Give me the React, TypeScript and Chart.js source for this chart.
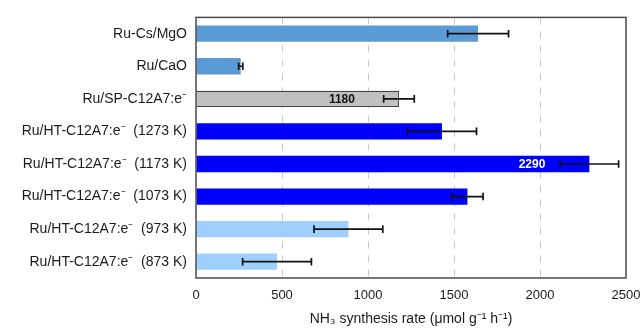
import React, { useEffect, useRef } from "react";
import { Chart, registerables } from "chart.js";

Chart.register(...registerables);

const categories = [
  "Ru-Cs/MgO",
  "Ru/CaO",
  "Ru/SP-C12A7:e\u207B",
  "Ru/HT-C12A7:e\u207B  (1273 K)",
  "Ru/HT-C12A7:e\u207B  (1173 K)",
  "Ru/HT-C12A7:e\u207B  (1073 K)",
  "Ru/HT-C12A7:e\u207B  (973 K)",
  "Ru/HT-C12A7:e\u207B  (873 K)",
];
const rates = [1640, 260, 1180, 1430, 2287, 1578, 886, 471];
const errors = [177, 12, 89, 201, 170, 91, 200, 200];
const barColors = ["#5B9BD5", "#5B9BD5", "#C0C0C0", "#0000FF", "#0000FF", "#0000FF", "#9ECFFF", "#9ECFFF"];
const borderWidths = [0, 0, 1.2, 0, 0, 0, 0, 0];
const valueLabels = ["", "", "1180", "", "2290", "", "", ""];
const valueLabelColors = ["", "", "#111111", "", "#FFFFFF", "", "", ""];
const xTicks = [0, 500, 1000, 1500, 2000, 2500];
const xTitle = "NH\u2083 synthesis rate (\u03BCmol g\u207B\u00B9 h\u207B\u00B9)";

const overlayPlugin = {
  id: "overlay",
  afterDatasetsDraw(chart: any) {
    const ctx = chart.ctx;
    const xs = chart.scales.x;
    const meta = chart.getDatasetMeta(0);
    ctx.save();
    // error bars
    ctx.strokeStyle = "#111111";
    ctx.lineWidth = 1.7;
    meta.data.forEach((bar: any, i: number) => {
      const y = bar.y;
      const x1 = xs.getPixelForValue(rates[i] - errors[i]);
      const x2 = xs.getPixelForValue(rates[i] + errors[i]);
      ctx.beginPath();
      ctx.moveTo(x1, y);
      ctx.lineTo(x2, y);
      ctx.moveTo(x1, y - 3.8);
      ctx.lineTo(x1, y + 3.8);
      ctx.moveTo(x2, y - 3.8);
      ctx.lineTo(x2, y + 3.8);
      ctx.stroke();
    });
    // value labels
    ctx.font = "bold 12px 'Liberation Sans', Arial, sans-serif";
    ctx.textAlign = "right";
    ctx.textBaseline = "middle";
    meta.data.forEach((bar: any, i: number) => {
      if (!valueLabels[i]) return;
      ctx.fillStyle = valueLabelColors[i];
      ctx.fillText(valueLabels[i], xs.getPixelForValue(rates[i]) - 44, bar.y + 0.5);
    });
    // frame
    const a = chart.chartArea;
    ctx.strokeStyle = "#4A4A4A";
    ctx.lineWidth = 1.5;
    ctx.strokeRect(a.left, a.top, a.right - a.left, a.bottom - a.top);
    ctx.restore();
  },
};

export default function App() {
  const ref = useRef<HTMLCanvasElement>(null);
  useEffect(() => {
    document.body.style.margin = "0";
    const chart = new Chart(ref.current as HTMLCanvasElement, {
      type: "bar",
      data: {
        labels: categories,
        datasets: [
          {
            data: rates,
            backgroundColor: barColors,
            borderColor: "#404040",
            borderWidth: borderWidths,
            barPercentage: 0.5,
            categoryPercentage: 1,
          },
        ],
      },
      options: {
        indexAxis: "y",
        animation: false,
        responsive: false,
        maintainAspectRatio: false,
        layout: { padding: { top: 16, right: 16, left: 0, bottom: 0 } },
        plugins: { legend: { display: false }, tooltip: { enabled: false } },
        scales: {
          x: {
            type: "linear",
            min: 0,
            max: 2500,
            afterBuildTicks: (s: any) => {
              s.ticks = xTicks.map((v) => ({ value: v }));
            },
            afterFit: (s: any) => {
              s.height = 50;
              s.paddingRight = 0;
              s.paddingLeft = 0;
            },
            ticks: {
              color: "#1a1a1a",
              padding: 10,
              callback: (v: any) => String(v),
              font: { family: "'Liberation Sans', Arial, sans-serif", size: 13 },
            },
            grid: {
              drawTicks: false,
              lineWidth: 1,
              color: (c: any) =>
                c.tick && (c.tick.value === 0 || c.tick.value === 2500) ? "rgba(0,0,0,0)" : "#C6C6DE",
            },
            border: { display: false, dash: [7, 7] },
            title: {
              display: true,
              text: xTitle,
              color: "#1a1a1a",
              padding: { top: 0, bottom: 0 },
              font: { family: "'Liberation Sans', Arial, sans-serif", size: 14 },
            },
          },
          y: {
            afterFit: (s: any) => {
              s.width = 196;
            },
            ticks: {
              color: "#1a1a1a",
              padding: 9,
              font: { family: "'Liberation Sans', Arial, sans-serif", size: 14 },
            },
            grid: { display: false, drawTicks: false },
            border: { display: false },
          },
        },
      },
      plugins: [overlayPlugin],
    } as any);
    return () => chart.destroy();
  }, []);
  return (
    <div style={{ width: 642, height: 328 }}>
      <canvas ref={ref} width={642} height={328} style={{ display: "block" }} />
    </div>
  );
}
